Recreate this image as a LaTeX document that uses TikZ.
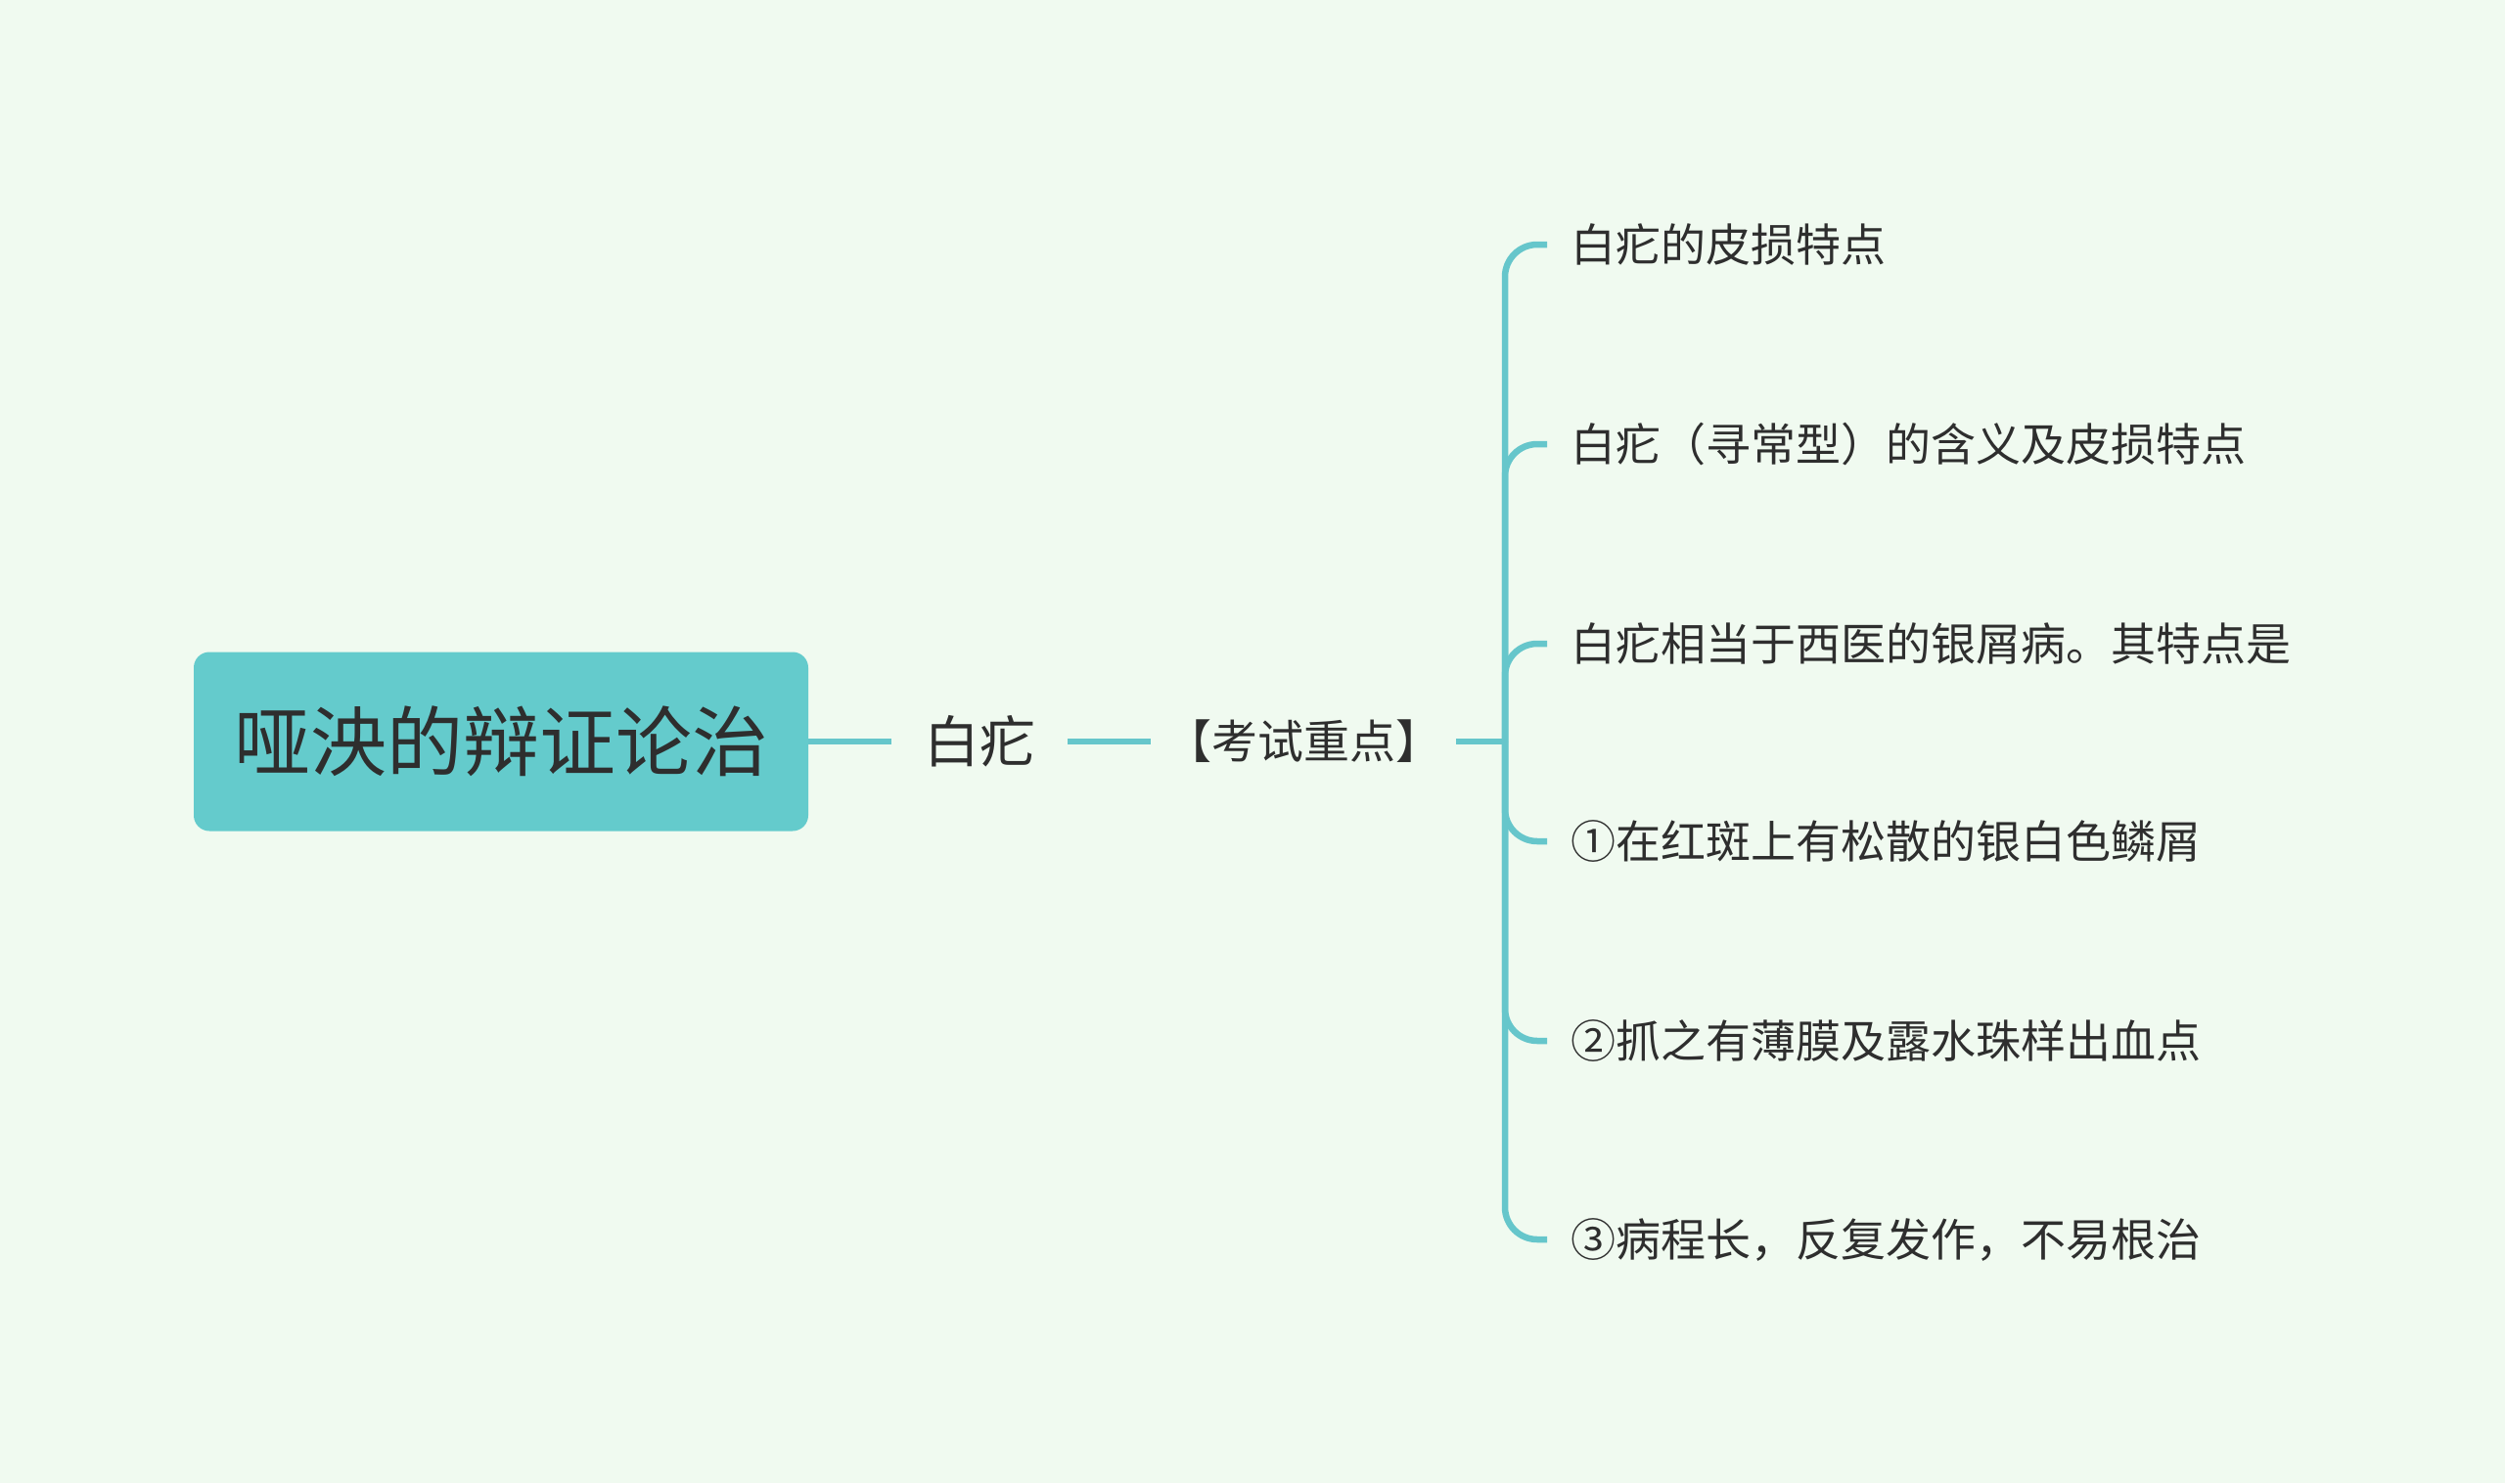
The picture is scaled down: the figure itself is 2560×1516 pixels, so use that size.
\documentclass[tikz,border=0pt]{standalone}
\usepackage{fontspec}
\setmainfont{Noto Sans CJK SC}
\definecolor{bgc}{HTML}{F0FAF0}
\definecolor{teal1}{HTML}{64CBCC}
\definecolor{linec}{HTML}{66C6CB}
\definecolor{txt}{HTML}{2E2E2E}
\tikzset{
  rootbox/.style={fill=teal1, rounded corners=16pt, minimum width=628pt, minimum height=183pt, inner sep=0pt, text=txt, font=\fontsize{78}{90}\selectfont},
  subnode/.style={inner xsep=33pt, inner ysep=6pt, text=txt, font=\fontsize{57}{66}\selectfont},
  keynode/.style={inner xsep=15pt, inner ysep=6pt, text=txt, font=\fontsize{47}{56}\selectfont},
  leafnode/.style={anchor=west, inner xsep=24pt, inner ysep=6pt, text=txt, font=\fontsize{46}{55}\selectfont},
  conn/.style={draw=linec, line width=6.5pt},
  bconn/.style={draw=linec, line width=6.5pt, rounded corners=33pt}
}
\begin{document}
\begin{tikzpicture}[x=1pt,y=-1pt]
\useasboundingbox (0,0) rectangle (2560,1516);
\fill[bgc] (0,0) rectangle (2560,1516);
\node[rootbox] (root) at (512,758) {哑泱的辩证论治};
\node[subnode, anchor=west] (sub) at (911,758) {白疕};
\node[keynode, anchor=west] (key) at (1176,758) {【考试重点】};
\coordinate (hub) at (1538,758);
\node[leafnode] (l1) at (1581,250) {白疕的皮损特点};
\node[leafnode] (l2) at (1581,454) {白疕（寻常型）的含义及皮损特点};
\node[leafnode] (l3) at (1581,658) {白疕相当于西医的银屑病。其特点是};
\node[leafnode] (l4) at (1581,860) {①在红斑上有松散的银白色鳞屑};
\node[leafnode] (l5) at (1581,1064) {②抓之有薄膜及露水珠样出血点};
\node[leafnode] (l6) at (1581,1267) {③病程长，反复发作，不易根治};
\draw[conn] (root.east) -- (sub.west);
\draw[conn] (sub.east) -- (key.west);
\draw[conn] (key.east) -- (hub);
\foreach \n in {l1,l2,l3,l4,l5,l6}{
  \draw[bconn] (hub) |- (\n.west);
}
\end{tikzpicture}
\end{document}
